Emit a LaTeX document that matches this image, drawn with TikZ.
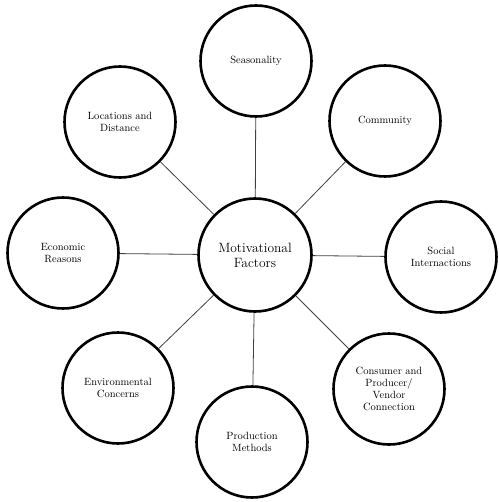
\documentclass[tikz,border=0pt]{standalone}
\begin{document}
\begin{tikzpicture}[x=1pt,y=-1pt,
  outer/.style={circle,draw=black,line width=2.6pt,minimum size=111pt,inner sep=0pt,align=center,font=\fontsize{10.5}{11.8}\selectfont},
  hub/.style={circle,draw=black,line width=2.6pt,minimum size=113pt,inner sep=0pt,align=center,font=\fontsize{13.5}{14.8}\selectfont},
  link/.style={draw=black!75,line width=0.8pt}]
\useasboundingbox (0,0) rectangle (498,502);
\node[hub] (c) at (255,255) {Motivational\\Factors};
\node[outer] (sea) at (256,61) {Seasonality};
\node[outer] (loc) at (120,122) {Locations and\\Distance};
\node[outer] (com) at (385,121) {Community};
\node[outer] (eco) at (63,253) {Economic\\Reasons};
\node[outer] (soc) at (441,257) {Social\\Internactions};
\node[outer] (env) at (118,388) {Environmental\\Concerns};
\node[outer] (con) at (389,389) {Consumer and\\Producer/\\Vendor\\Connection};
\node[outer] (pro) at (252,442) {Production\\Methods};
\foreach \n in {sea,loc,com,eco,soc,env,con,pro}
  \draw[link] (c) -- (\n);
\end{tikzpicture}
\end{document}
